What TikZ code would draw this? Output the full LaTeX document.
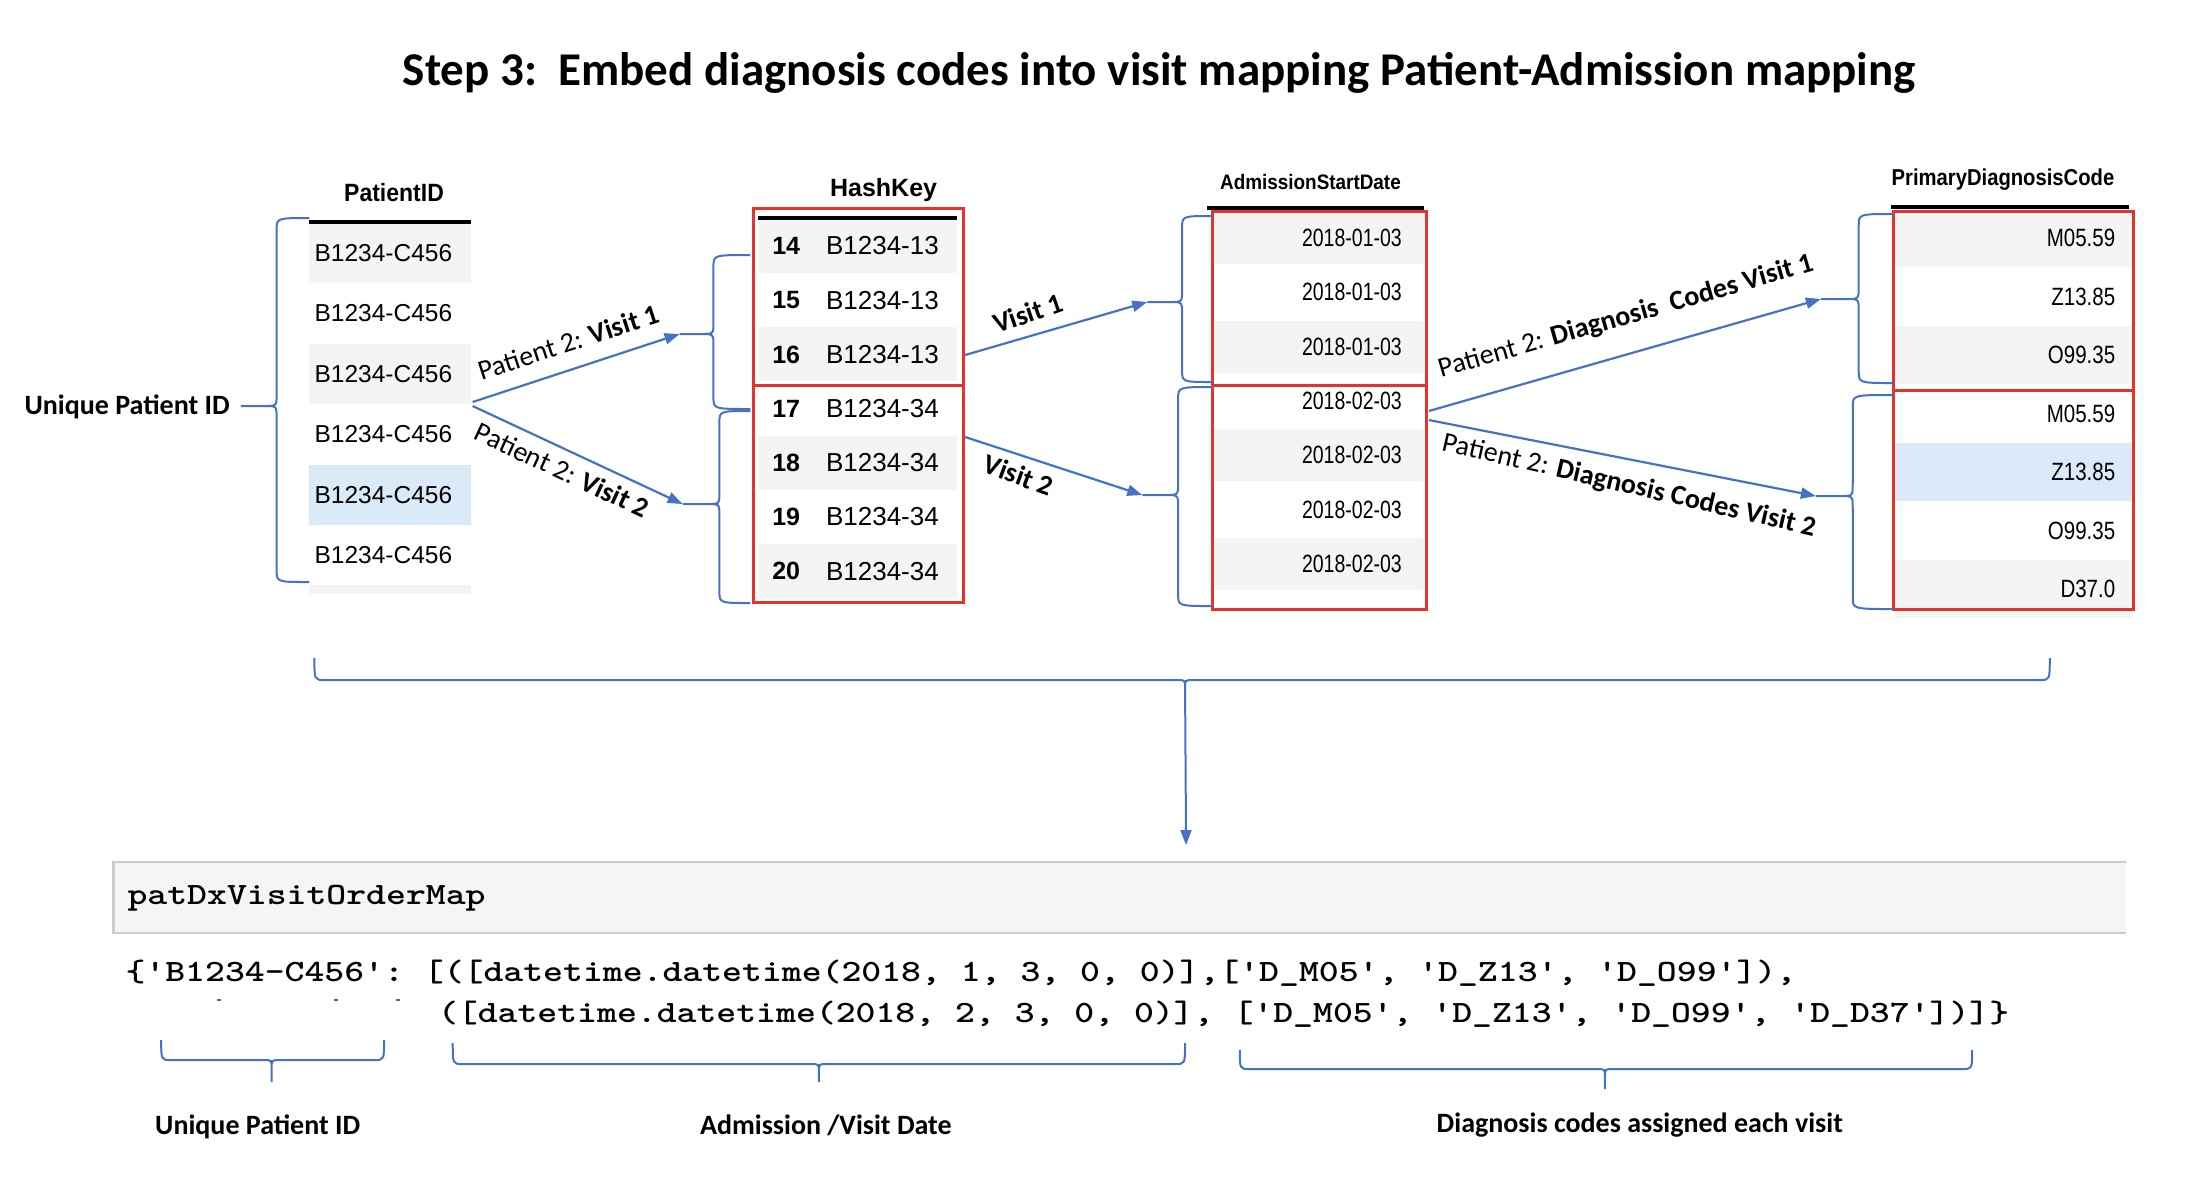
\documentclass[tikz,border=0pt]{standalone}
\usepackage{fontspec}
\usepackage{graphicx}
\setmainfont{Liberation Sans}
\newfontfamily\calfont{Carlito}
\usetikzlibrary{arrows.meta}
\definecolor{arrowblue}{HTML}{4472C4}
\definecolor{boxred}{HTML}{E5332A}
\definecolor{rowgray}{HTML}{F4F4F4}
\definecolor{rowblue}{HTML}{DAEAF8}
\definecolor{codefill}{HTML}{F5F5F5}
\definecolor{codeborder}{HTML}{CCCCCC}
\newcommand\q{\textquotesingle}
\newcommand\codefont{\ttfamily\bfseries\fontsize{31}{34}\selectfont\frenchspacing}
\newcommand\VBrace[6]{% xe, xb, xt, ytop, ytip, ybot
  \draw[brc] (#1,#4) .. controls (#2,#4) .. (#2,{#4+12}) -- (#2,{#5-12}) .. controls (#2,#5) .. ({#2-12},#5) -- (#3,#5)
    (#3,#5) -- ({#2-12},#5) .. controls (#2,#5) .. (#2,{#5+12}) -- (#2,{#6-12}) .. controls (#2,#6) .. (#1,#6);}
\newcommand\HBrace[6]{% x1, x2, xt, ytop, ybar, ytip
  \draw[brc] (#1,#4) .. controls (#1,#5) .. ({#1+10},#5) -- ({#3-8},#5) .. controls (#3,#5) .. (#3,{#5+8}) -- (#3,#6)
    (#3,#6) -- (#3,{#5+8}) .. controls (#3,#5) .. ({#3+8},#5) -- ({#2-10},#5) .. controls (#2,#5) .. (#2,#4);}
\tikzset{
  brc/.style={draw=arrowblue, line width=2pt},
  conn/.style={draw=arrowblue, line width=2.2pt, -{Triangle[length=15pt,width=11pt]}},
  lab/.style={font=\calfont\fontsize{28}{30}\selectfont, inner sep=0pt},
  blab/.style={font=\calfont\bfseries\fontsize{28}{30}\selectfont, inner sep=0pt},
  hdr/.style={font=\bfseries\fontsize{25}{27}\selectfont, inner sep=0pt},
  cell/.style={font=\fontsize{24.5}{26}\selectfont, inner sep=0pt},
  redbox/.style={draw=boxred, line width=3pt},
  hline/.style={draw=black, line width=3.5pt},
}
\begin{document}
\begin{tikzpicture}[x=0.995pt,y=-1pt]
\useasboundingbox[fill=white] (0,0) rectangle (2209,1200);

% title
\node[font=\calfont\bfseries\fontsize{47}{52}\selectfont, inner sep=0pt] (title) at (1165,73)
  {Step 3:\ \ Embed diagnosis codes into visit mapping Patient-Admission mapping};

% ---------------- PatientID table
\fill[rowgray] (311,223) rectangle (473,283);
\fill[rowgray] (311,344) rectangle (473,404);
\fill[rowblue] (311,465) rectangle (473,525);
\fill[rowgray] (311,585) rectangle (473,594);
\node[hdr] (hpid) at (396,193) {\scalebox{0.92}[1]{PatientID}};
\draw[hline] (311,222) -- (473,222);
\foreach \i in {0,...,5}{
  \node[cell, anchor=west] (pid\i) at (316,{253+60.5*\i}) {B1234-C456};
}
\VBrace{311}{278}{242}{218}{406}{582}
\node[blab, anchor=east] (uid) at (231,407) {Unique Patient ID};

% ---------------- HashKey table
\foreach \i in {0,2,4,6}{
  \fill[rowgray] (762,{246+54.2*\i-27}) rectangle (962,{246+54.2*\i+27});
}
\node[hdr] (hhk) at (888,190) {HashKey};
\draw[hline] (762,218) -- (962,218);
\foreach \n [count=\i from 0] in {14,15,16,17,18,19,20}{
  \node[cell, font=\bfseries\fontsize{25}{26}\selectfont, anchor=west] (hn\i) at (776,{246+54.2*\i}) {\n};
}
\foreach \i in {0,1,2}{
  \node[cell, font=\fontsize{26}{27}\selectfont, anchor=west] (hk\i) at (830,{246+54.2*\i}) {B1234-13};
}
\foreach \i in {3,4,5,6}{
  \node[cell, font=\fontsize{26}{27}\selectfont, anchor=west] (hk\i) at (830,{246+54.2*\i}) {B1234-34};
}
\draw[redbox] (757,208) rectangle (968,385);
\draw[redbox] (757,385) rectangle (968,602);
\VBrace{754}{717}{683}{255}{334}{409}
\VBrace{754}{723}{686}{411}{504}{603}

% ---------------- AdmissionStartDate table
\foreach \i in {0,2,4,6}{
  \fill[rowgray] (1219,{238+54.3*\i-26}) rectangle (1431,{238+54.3*\i+26});
}
\node[hdr, font=\bfseries\fontsize{21}{23}\selectfont] (had) at (1317,182) {\scalebox{0.9}[1]{AdmissionStartDate}};
\foreach \i in {0,1,2}{
  \node[cell, anchor=east] (ad\i) at (1409,{238+54.3*\i}) {\fontsize{25}{26}\selectfont\scalebox{0.78}[1]{2018-01-03}};
}
\foreach \i in {3,4,5,6}{
  \node[cell, anchor=east] (ad\i) at (1409,{238+54.3*\i}) {\fontsize{25}{26}\selectfont\scalebox{0.78}[1]{2018-02-03}};
}
\draw[redbox] (1219,211) rectangle (1434,385);
\draw[redbox] (1219,385) rectangle (1434,609);
\draw[hline] (1213,208) -- (1431,208);
\VBrace{1219}{1188}{1153}{216}{302}{382}
\VBrace{1219}{1184}{1148}{387}{495}{606}

% ---------------- PrimaryDiagnosisCode table
\foreach \i in {0,2,6}{
  \fill[rowgray] (1903,{238+58.5*\i-29}) rectangle (2144,{238+58.5*\i+29});
}
\fill[rowblue] (1903,{238+58.5*4-29}) rectangle (2144,{238+58.5*4+29});
\node[hdr, font=\bfseries\fontsize{23}{25}\selectfont] (hdc) at (2013,180) {\scalebox{0.88}[1]{PrimaryDiagnosisCode}};
\foreach \t [count=\i from 0] in {M05.59,Z13.85,O99.35,M05.59,Z13.85,O99.35,D37.0}{
  \node[cell, anchor=east] (dc\i) at (2126,{238+58.5*\i}) {\fontsize{25}{26}\selectfont\scalebox{0.82}[1]{\t}};
}
\draw[redbox] (1903,211) rectangle (2144,390);
\draw[redbox] (1903,390) rectangle (2144,609);
\draw[hline] (1900,207) -- (2140,207);
\VBrace{1903}{1868}{1830}{214}{299}{383}
\VBrace{1903}{1862}{1825}{395}{496}{609}

% ---------------- connector end points
\coordinate (sA1) at (475,402);
\coordinate (sA2) at (475,406);
\coordinate (tA1) at (683,334);
\coordinate (tA2) at (686,504);
\coordinate (sV1) at (970,355);
\coordinate (sV2) at (970,437);
\coordinate (tV1) at (1153,302);
\coordinate (tV2) at (1148,495);
\coordinate (sD1) at (1436,411);
\coordinate (sD2) at (1436,420);
\coordinate (tD1) at (1830,299);
\coordinate (tD2) at (1825,496);
\draw[conn] (sA1) -- (tA1);
\draw[conn] (sA2) -- (tA2);
\draw[conn] (sV1) -- (tV1);
\draw[conn] (sV2) -- (tV2);
\draw[conn] (sD1) -- (tD1);
\draw[conn] (sD2) -- (tD2);

\node[lab, rotate=18] (lA1) at (571,342) {Patient 2: \textbf{Visit 1}};
\node[lab, rotate=-25] (lA2) at (565,470) {Patient 2: \textbf{Visit 2}};
\node[blab, rotate=19] (lV1) at (1033,313) {Visit 1};
\node[blab, rotate=-20] (lV2) at (1024,475) {Visit 2};
\node[lab, rotate=16] (lD1) at (1634,317) {Patient 2: \textbf{Diagnosis\ \ Codes Visit 1}};
\node[lab, rotate=-13] (lD2) at (1637,486) {Patient 2: \textbf{Diagnosis Codes Visit 2}};

% ---------------- big brace and arrow down
\HBrace{316}{2060}{1191}{658}{680}{690}
\coordinate (bigtip) at (1191,690);
\coordinate (codetop) at (1192,845);
\draw[conn, line width=2pt] (bigtip) -- (codetop);

% ---------------- code cell
\fill[codefill] (114,862) rectangle (2137,933);
\draw[codeborder, line width=2.5pt] (2137,862) -- (114,862) -- (114,933) -- (2137,933);
\node[inner sep=0pt, anchor=west] (cellname) at (128,898) {\codefont\scalebox{1.222}[1]{patDxVisitOrderMap}};

\node[inner sep=0pt, anchor=base west] (line1) at (126,981)
  {\codefont\scalebox{1.222}[1]{\{\q B1234-C456\q: [([datetime.datetime(2018, 1, 3, 0, 0)],[\q D\_M05\q, \q D\_Z13\q, \q D\_O99\q]),}};
\node[inner sep=0pt, anchor=base west] (line2) at (440,1022)
  {\codefont\scalebox{1.222}[1]{([datetime.datetime(2018, 2, 3, 0, 0)], [\q D\_M05\q, \q D\_Z13\q, \q D\_O99\q, \q D\_D37\q])]\}}};

% tiny marks between the code lines
\fill[black!60] (218,999) rectangle (222,1001);
\fill[black!60] (336,999) rectangle (340,1001);
\fill[black!60] (398,999) rectangle (402,1001);

% ---------------- small braces and labels
\HBrace{162}{386}{273}{1040}{1060}{1082}
\HBrace{455}{1191}{823}{1043}{1064}{1082}
\HBrace{1246}{1982}{1613}{1050}{1069}{1089}
\node[blab] (bl1) at (259,1127) {Unique Patient ID};
\node[blab] (bl2) at (830,1125) {Admission /Visit Date};
\node[blab] (bl3) at (1648,1125) {Diagnosis codes assigned each visit};
\end{tikzpicture}
\end{document}
